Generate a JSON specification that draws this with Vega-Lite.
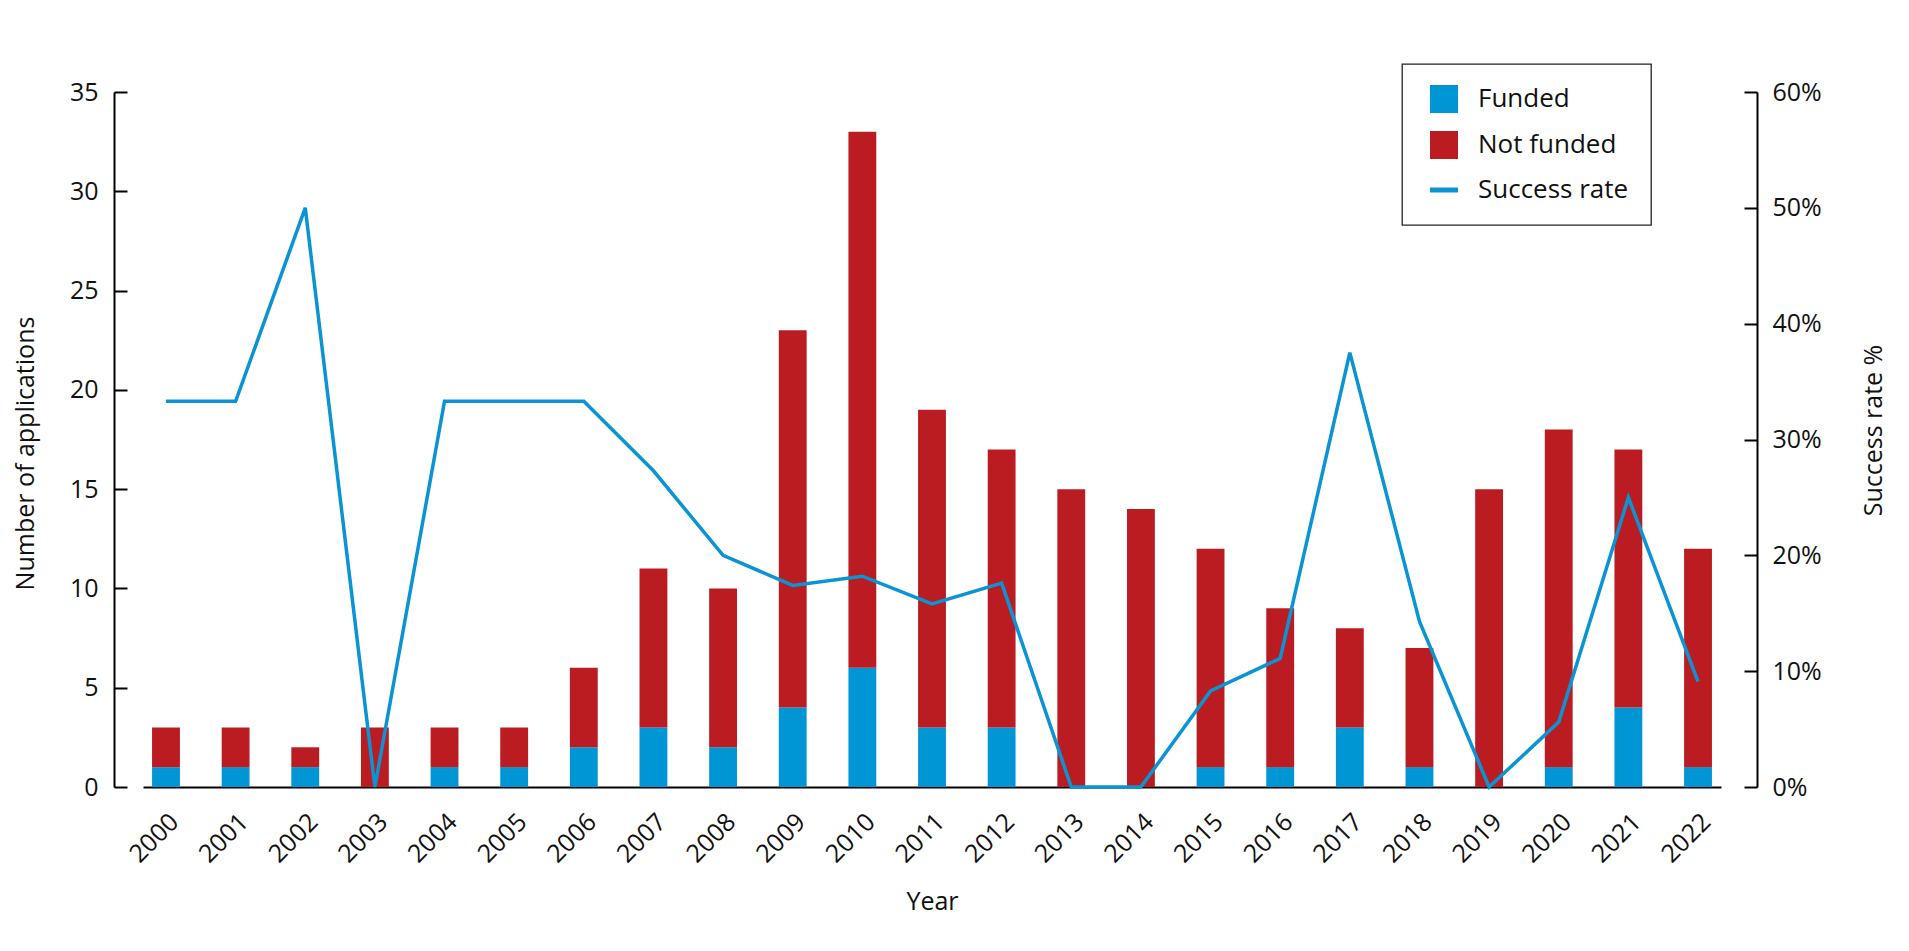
{
  "$schema": "https://vega.github.io/schema/vega-lite/v6.json",
  "autosize": {"type": "none"},
  "padding": {"left": 143, "top": 92, "right": 188, "bottom": 164},
  "width": 1578,
  "height": 695,
  "background": "white",
  "config": {
    "view": {"stroke": null},
    "font": "Open Sans",
    "axis": {"labelFont": "Open Sans", "titleFont": "Open Sans", "labelColor": "#111", "titleColor": "#111", "titleFontWeight": "normal", "domainColor": "#000", "tickColor": "#000", "domainWidth": 2, "tickWidth": 2, "grid": false},
    "legend": {"labelFont": "Open Sans", "strokeWidth": 1.3}
  },
  "data": {
    "values": [
      {"Year": "2000", "Funded": 1, "Not funded": 2, "rate": 0.333},
      {"Year": "2001", "Funded": 1, "Not funded": 2, "rate": 0.333},
      {"Year": "2002", "Funded": 1, "Not funded": 1, "rate": 0.5},
      {"Year": "2003", "Funded": 0, "Not funded": 3, "rate": 0},
      {"Year": "2004", "Funded": 1, "Not funded": 2, "rate": 0.333},
      {"Year": "2005", "Funded": 1, "Not funded": 2, "rate": 0.333},
      {"Year": "2006", "Funded": 2, "Not funded": 4, "rate": 0.333},
      {"Year": "2007", "Funded": 3, "Not funded": 8, "rate": 0.273},
      {"Year": "2008", "Funded": 2, "Not funded": 8, "rate": 0.2},
      {"Year": "2009", "Funded": 4, "Not funded": 19, "rate": 0.174},
      {"Year": "2010", "Funded": 6, "Not funded": 27, "rate": 0.182},
      {"Year": "2011", "Funded": 3, "Not funded": 16, "rate": 0.158},
      {"Year": "2012", "Funded": 3, "Not funded": 14, "rate": 0.176},
      {"Year": "2013", "Funded": 0, "Not funded": 15, "rate": 0},
      {"Year": "2014", "Funded": 0, "Not funded": 14, "rate": 0},
      {"Year": "2015", "Funded": 1, "Not funded": 11, "rate": 0.083},
      {"Year": "2016", "Funded": 1, "Not funded": 8, "rate": 0.111},
      {"Year": "2017", "Funded": 3, "Not funded": 5, "rate": 0.375},
      {"Year": "2018", "Funded": 1, "Not funded": 6, "rate": 0.143},
      {"Year": "2019", "Funded": 0, "Not funded": 15, "rate": 0},
      {"Year": "2020", "Funded": 1, "Not funded": 17, "rate": 0.056},
      {"Year": "2021", "Funded": 4, "Not funded": 13, "rate": 0.25},
      {"Year": "2022", "Funded": 1, "Not funded": 11, "rate": 0.091}
    ]
  },
  "encoding": {
    "x": {
      "field": "Year",
      "type": "ordinal",
      "scale": {"paddingInner": 0.6, "paddingOuter": 0.13},
      "axis": {
        "title": "Year",
        "labelAngle": -45,
        "labelFontSize": 25,
        "labelPadding": 22,
        "ticks": false,
        "titleFontSize": 25,
        "titleBaseline": "alphabetic",
        "titleY": 122
      }
    }
  },
  "layer": [
    {
      "transform": [{"fold": ["Funded", "Not funded"], "as": ["status", "count"]}],
      "mark": {"type": "bar"},
      "encoding": {
        "y": {
          "field": "count",
          "type": "quantitative",
          "stack": "zero",
          "scale": {"domain": [0, 35], "nice": false},
          "axis": {
            "title": "Number of applications",
            "orient": "left",
            "offset": 29,
            "values": [0, 5, 10, 15, 20, 25, 30, 35],
            "tickSize": -13,
            "labelPadding": 29,
            "labelFontSize": 25,
            "titleFontSize": 25,
            "titleX": -89,
            "titleY": 361,
            "titleBaseline": "middle",
            "titleAlign": "center",
            "titleAngle": 270
          }
        },
        "color": {
          "field": "status",
          "type": "nominal",
          "scale": {"domain": ["Funded", "Not funded", "Success rate"], "range": ["#0096d6", "#ba1c21", "#0a94d4"]},
          "legend": {
            "title": null,
            "orient": "none",
            "legendX": 1259,
            "legendY": -28,
            "padding": 22,
            "strokeColor": "#222",
            "fillColor": "white",
            "labelFontSize": 26,
            "labelColor": "#111",
            "labelOffset": 21,
            "symbolOffset": 7,
            "symbolSize": 784,
            "symbolType": "square",
            "rowPadding": 18,
            "symbolStrokeWidth": 0,
            "encode": {
              "symbols": {
                "update": {
                  "shape": {"signal": "datum.value === 'Success rate' ? 'stroke' : 'square'"},
                  "stroke": {"signal": "datum.value === 'Success rate' ? '#0a94d4' : 'transparent'"},
                  "strokeWidth": {"signal": "datum.value === 'Success rate' ? 5 : 0"}
                }
              }
            }
          }
        },
        "order": {"field": "status", "type": "nominal"}
      }
    },
    {
      "mark": {"type": "line", "strokeWidth": 3.5, "color": "#0a94d4"},
      "encoding": {
        "y": {
          "field": "rate",
          "type": "quantitative",
          "scale": {"domain": [0, 0.6], "nice": false},
          "axis": {
            "title": "Success rate %",
            "orient": "right",
            "offset": 36,
            "values": [0, 0.1, 0.2, 0.3, 0.4, 0.5, 0.6],
            "format": ".0%",
            "tickSize": -13,
            "labelPadding": 28,
            "labelFontSize": 25,
            "titleFontSize": 25,
            "titleX": 116,
            "titleY": 338,
            "titleBaseline": "middle",
            "titleAlign": "center",
            "titleAngle": 270
          }
        },
        "color": {"datum": "Success rate"}
      }
    }
  ],
  "resolve": {"scale": {"y": "independent"}}
}
